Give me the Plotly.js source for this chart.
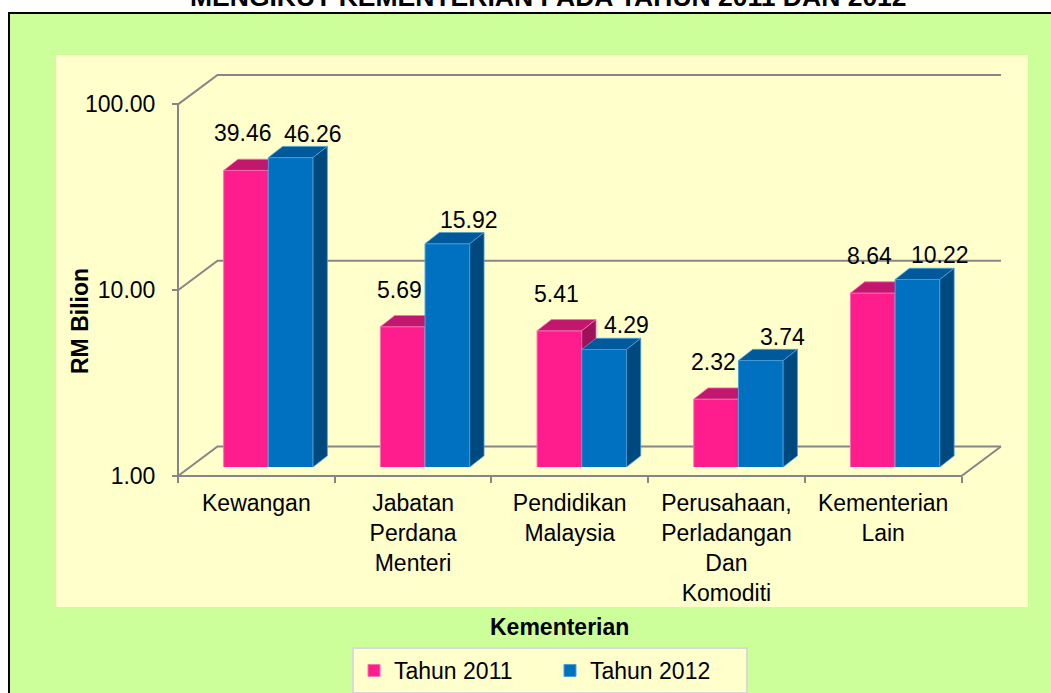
<!DOCTYPE html>
<html>
<head>
<meta charset="utf-8">
<script src="https://cdn.plot.ly/plotly-3.0.1.min.js"></script>
<style>html,body{margin:0;padding:0;background:#fff;}#chart{width:1051px;height:693px;}</style>
</head>
<body>
<div id="chart"></div>
<script>
// ---------- data ----------
const chartTitle = 'MENGIKUT KEMENTERIAN PADA TAHUN 2011 DAN 2012';
const categories = ['Kewangan', 'Jabatan Perdana Menteri', 'Pendidikan Malaysia', 'Perusahaan, Perladangan Dan Komoditi', 'Kementerian Lain'];
const categoryLabels = ['Kewangan', 'Jabatan<br>Perdana<br>Menteri', 'Pendidikan<br>Malaysia', 'Perusahaan,<br>Perladangan<br>Dan<br>Komoditi', 'Kementerian<br>Lain'];
const seriesNames = ['Tahun 2011', 'Tahun 2012'];
const tahun2011 = [39.46, 5.69, 5.41, 2.32, 8.64];
const tahun2012 = [46.26, 15.92, 4.29, 3.74, 10.22];
const yTickVals = [1, 10, 100];
const yTickText = ['1.00', '10.00', '100.00'];
const yTitle = 'RM Bilion';
const xTitle = 'Kementerian';

// ---------- geometry / style ----------
const FONT = 'Liberation Sans, Arial, sans-serif';
const WIDTH = 1051, HEIGHT = 693;
const L = 168, R = 1012, T = 58, B = 486;
const W = R - L, H = B - T;
const PXC = 156.7;   // px per category
const PXD = 185.8;   // px per decade
const PADL = 10, PADB = 10;          // front-left corner inside plot
const WALL_DX = 39.5, WALL_DY = 29.5; // back wall offset (px)
const BAR_DX = 12, BAR_DY = 9;       // bar plane offset (px)
const BAR_W = 44.7;                  // bar width px
const DEPTH_DX = 14.3, DEPTH_DY = 11.2; // bar depth px
const GRID = '#868686';

const nCat = categories.length;
const centers = categories.map((c, i) => i + 0.5);
const bounds = Array.from({length: nCat + 1}, (_, i) => i);

const colors = [
  {front: '#FF1D8E', top: '#C2176F', side: '#9E1259', edge: '#FF6FB4'},
  {front: '#0070C0', top: '#00599B', side: '#00497E', edge: '#4C9FDA'}
];

const px2paperX = px => (px - L) / W;
const px2paperY = py => (B - py) / H;

const traces = [];

// back wall / floor lines (main axes)
const wdx = WALL_DX / PXC, wk = Math.pow(10, WALL_DY / PXD);
const gx = [], gy = [];
yTickVals.forEach(v => {
  gx.push(0, wdx, nCat + wdx, null);
  gy.push(v, v * wk, v * wk, null);
});
gx.push(0, 0, null);
gy.push(yTickVals[0], yTickVals[yTickVals.length - 1], null);
gx.push(0, nCat, nCat + wdx, null);
gy.push(yTickVals[0], yTickVals[0], yTickVals[0] * wk, null);
traces.push({
  type: 'scatter', mode: 'lines', x: gx, y: gy, xaxis: 'x', yaxis: 'y',
  line: {color: GRID, width: 2}, hoverinfo: 'skip', showlegend: false
});

// bars
const BW = BAR_W / PXC, DX = DEPTH_DX / PXC, KY = Math.pow(10, DEPTH_DY / PXD);
const seriesVals = [tahun2011, tahun2012];
const annotations = [];
seriesVals.forEach((vals, s) => {
  const xa = s === 0 ? 'x2' : 'x3', ya = s === 0 ? 'y2' : 'y3';
  const col = colors[s];
  traces.push({
    type: 'bar', name: seriesNames[s], x: centers, y: vals, xaxis: xa, yaxis: ya,
    width: BW, offset: s === 0 ? -BW : 0,
    marker: {color: col.front, line: {color: col.edge, width: 1}},
    customdata: categories, hovertemplate: '%{customdata}: %{y:.2f}<extra>' + seriesNames[s] + '</extra>'
  });
  const tx = [], ty = [], sx = [], sy = [];
  vals.forEach((v, i) => {
    const xl = centers[i] + (s === 0 ? -BW : 0), xr = xl + BW;
    tx.push(xl, xr, xr + DX, xl + DX, xl, null);
    ty.push(v, v, v * KY, v * KY, v, null);
    sx.push(xr, xr, xr + DX, xr + DX, xr, null);
    sy.push(1, v, v * KY, KY, 1, null);
  });
  traces.push({type: 'scatter', mode: 'lines', x: tx, y: ty, xaxis: xa, yaxis: ya, fill: 'toself',
    fillcolor: col.top, line: {color: col.edge, width: 0.8}, hoverinfo: 'skip', showlegend: false});
  traces.push({type: 'scatter', mode: 'lines', x: sx, y: sy, xaxis: xa, yaxis: ya, fill: 'toself',
    fillcolor: col.side, line: {color: col.edge, width: 0.8}, hoverinfo: 'skip', showlegend: false});
  vals.forEach((v, i) => {
    annotations.push({
      xref: xa, yref: ya, x: centers[i] + (s === 0 ? -BW / 2 : BW / 2), y: Math.log10(v),
      text: v.toFixed(2), showarrow: false, xanchor: 'center', yanchor: 'bottom',
      xshift: s === 0 ? -3 : 22, yshift: s === 0 ? 22 : 9,
      font: {family: FONT, size: 23, color: '#000'}
    });
  });
});

// titles
annotations.push({xref: 'paper', yref: 'paper', x: px2paperX(548), y: px2paperY(14), xanchor: 'center', yanchor: 'bottom',
  text: '<b>' + chartTitle + '</b>', showarrow: false, font: {family: FONT, size: 26.5, color: '#000'}});
annotations.push({xref: 'paper', yref: 'paper', x: px2paperX(80), y: px2paperY(321), xanchor: 'center', yanchor: 'middle',
  text: '<b>' + yTitle + '</b>', textangle: -90, showarrow: false, font: {family: FONT, size: 23, color: '#000'}});
annotations.push({xref: 'paper', yref: 'paper', x: px2paperX(559), y: px2paperY(627), xanchor: 'center', yanchor: 'middle',
  text: '<b>' + xTitle + '</b>', showarrow: false, font: {family: FONT, size: 23, color: '#000'}});

const barX = {
  domain: [0, 1], range: [-(PADL + BAR_DX) / PXC, (W - PADL - BAR_DX) / PXC], visible: false, fixedrange: true
};
const barY = {
  type: 'log', domain: [(PADB + BAR_DY) / H, 1], range: [0, (H - PADB - BAR_DY) / PXD], visible: false, fixedrange: true
};

const layout = {
  width: WIDTH, height: HEIGHT,
  margin: {l: L, r: WIDTH - R, t: T, b: HEIGHT - B, pad: 0, autoexpand: false},
  paper_bgcolor: '#FFFFFF', plot_bgcolor: 'rgba(0,0,0,0)',
  font: {family: FONT, color: '#000'},
  showlegend: true,
  legend: {
    orientation: 'h', x: px2paperX(352), y: px2paperY(647), xanchor: 'left', yanchor: 'top',
    bgcolor: '#FFFFCC', bordercolor: '#D9D9D9', borderwidth: 2, entrywidth: 151,
    font: {family: FONT, size: 23, color: '#000'}, traceorder: 'normal'
  },
  xaxis: {
    domain: [0, 1], range: [-PADL / PXC, (W - PADL) / PXC], anchor: 'free', position: PADB / H,
    tickmode: 'array', tickvals: centers, ticktext: categoryLabels, ticks: '',
    ticklabelstandoff: 11,
    tickfont: {family: FONT, size: 23, color: '#000'},
    minor: {tickmode: 'array', tickvals: bounds, ticks: 'outside', ticklen: 6, tickwidth: 2, tickcolor: GRID, showgrid: false},
    showgrid: false, zeroline: false, showline: false, fixedrange: true
  },
  yaxis: {
    type: 'log', domain: [0, 1], range: [-PADB / PXD, (H - PADB) / PXD], anchor: 'free', position: PADL / W,
    tickmode: 'array', tickvals: yTickVals, ticktext: yTickText, ticks: 'outside', ticklen: 6, tickwidth: 2, tickcolor: GRID,
    ticklabelstandoff: 12,
    tickfont: {family: FONT, size: 23, color: '#000'},
    showgrid: false, zeroline: false, showline: false, fixedrange: true
  },
  xaxis2: Object.assign({anchor: 'y2'}, barX),
  yaxis2: Object.assign({anchor: 'x2'}, barY),
  xaxis3: Object.assign({anchor: 'y3'}, barX),
  yaxis3: Object.assign({anchor: 'x3'}, barY),
  shapes: [
    {type: 'rect', xref: 'paper', yref: 'paper', layer: 'below',
      x0: px2paperX(9), x1: px2paperX(1070), y0: px2paperY(720), y1: px2paperY(13),
      fillcolor: '#CCFF99', line: {color: '#000', width: 2}},
    {type: 'rect', xref: 'paper', yref: 'paper', layer: 'below',
      x0: px2paperX(56), x1: px2paperX(1028), y0: px2paperY(607), y1: px2paperY(55),
      fillcolor: '#FFFFCC', line: {width: 0}}
  ],
  annotations: annotations
};

Plotly.newPlot('chart', traces, layout, {displayModeBar: false, staticPlot: false});
</script>
</body>
</html>
